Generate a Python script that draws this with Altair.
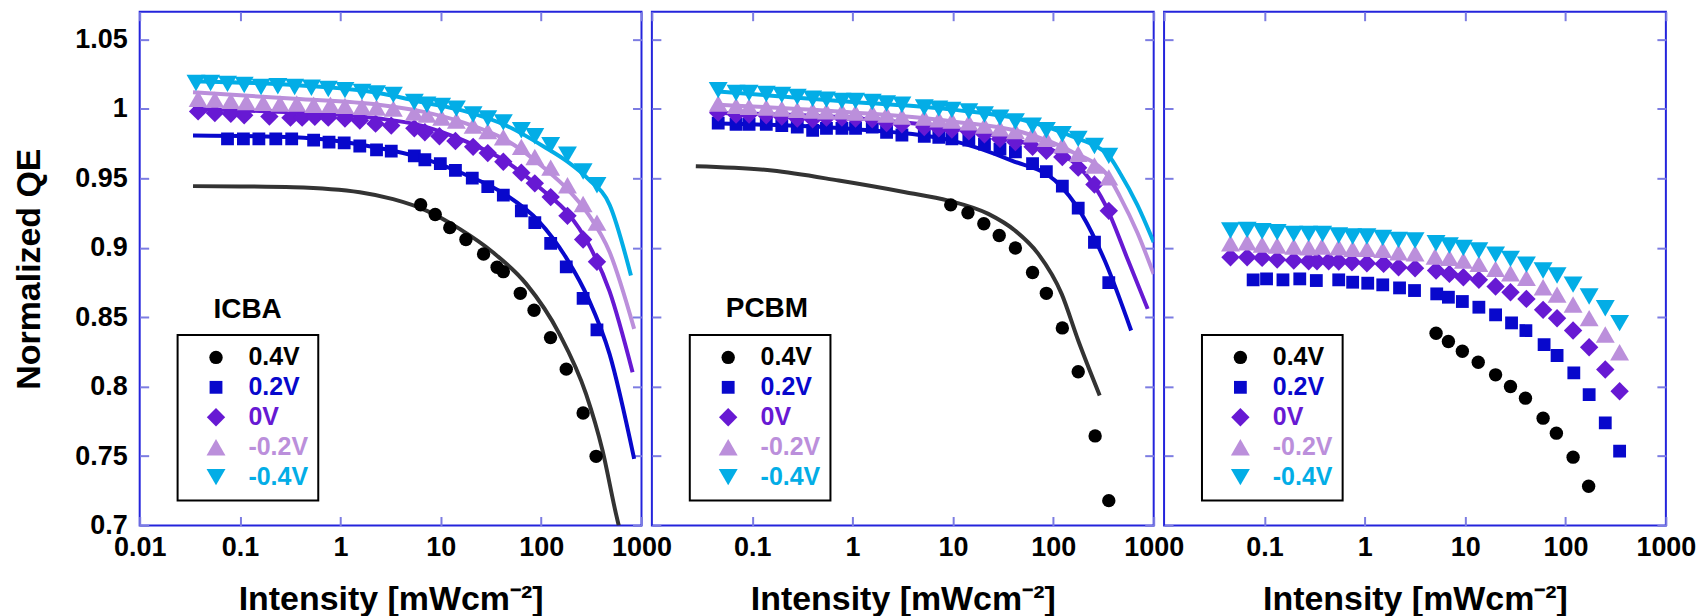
import altair as alt
import pandas as pd

SERIES = ["0.4V", "0.2V", "0V", "-0.2V", "-0.4V"]

# ---------------- ICBA (left panel) measured points ----------------
icba_x_p04 = [6.3, 8.8, 12.3, 17.8, 26.7, 36.4, 42, 62, 85, 124, 178, 262, 353]
icba_y_p04 = [0.931, 0.924, 0.9145, 0.906, 0.8955, 0.886, 0.8828, 0.8672, 0.855, 0.8353, 0.8126, 0.781, 0.7498]
icba_x_p02 = [0.075, 0.108, 0.154, 0.227, 0.327, 0.541, 0.77, 1.09, 1.56, 2.29, 3.21, 5.45, 6.94, 9.9, 14, 20.6, 29.4, 42, 63.5, 86.5, 124.5, 178, 262, 360]
icba_y_p02 = [0.9784, 0.9784, 0.9784, 0.9784, 0.9784, 0.9775, 0.9761, 0.9756, 0.9733, 0.9705, 0.9696, 0.9662, 0.9634, 0.9606, 0.9558, 0.9501, 0.9441, 0.9379, 0.9266, 0.9181, 0.9032, 0.8862, 0.8636, 0.8409]
icba_x_0 = [0.0382, 0.0561, 0.0809, 0.110, 0.196, 0.318, 0.416, 0.556, 0.757, 1.11, 1.56, 2.24, 3.21, 5.45, 6.94, 9.7, 14, 21, 29.4, 42, 63.5, 86.5, 124.5, 183, 262, 360]
icba_y_0 = [0.9982, 0.997, 0.9965, 0.9954, 0.9945, 0.9937, 0.9937, 0.9943, 0.9937, 0.9931, 0.9917, 0.9894, 0.988, 0.986, 0.9832, 0.9803, 0.9769, 0.9727, 0.9682, 0.962, 0.9541, 0.9464, 0.9365, 0.923, 0.906, 0.8899]
icba_x_m02 = [0.0382, 0.0561, 0.0809, 0.1156, 0.17, 0.25, 0.367, 0.541, 0.795, 1.11, 1.64, 2.29, 3.37, 5.45, 7.28, 10.2, 14.3, 21, 29.4, 42, 63.5, 86.5, 124.5, 183, 262, 360]
icba_y_m02 = [1.0073, 1.0067, 1.0058, 1.005, 1.0044, 1.0039, 1.0039, 1.003, 1.003, 1.0022, 1.0016, 1.001, 1.0002, 0.9973, 0.996, 0.9937, 0.9917, 0.988, 0.984, 0.9796, 0.9727, 0.9654, 0.9577, 0.945, 0.9315, 0.9181]
icba_x_m04 = [0.0364, 0.0509, 0.075, 0.110, 0.162, 0.238, 0.35, 0.514, 0.757, 1.11, 1.64, 2.29, 3.37, 5.45, 7.28, 10.2, 14.3, 21, 29.4, 42, 63.5, 86.5, 124.5, 183, 262, 360]
icba_y_m04 = [1.0187, 1.0187, 1.018, 1.0172, 1.0158, 1.0163, 1.0158, 1.0152, 1.0143, 1.0135, 1.0123, 1.0112, 1.0101, 1.005, 1.003, 1.0022, 1.0002, 0.996, 0.9931, 0.9903, 0.9846, 0.9803, 0.9739, 0.9671, 0.9549, 0.945]

# ICBA fitted curves
icba_fx_p04 = [0.034, 0.1, 0.34, 1.56, 3.35, 7.19, 15.4, 33, 71, 152, 280, 409, 557, 593]
icba_fy_p04 = [0.9444, 0.9442, 0.9436, 0.940, 0.935, 0.9268, 0.9136, 0.8968, 0.874, 0.838, 0.7948, 0.754, 0.7084, 0.70]
icba_fx_p02 = [0.034, 0.35, 2.4, 6.4, 16.6, 45, 93.4, 183, 297, 481, 845]
icba_fy_p02 = [0.9809, 0.9796, 0.9719, 0.9648, 0.9535, 0.9379, 0.9196, 0.8913, 0.863, 0.8234, 0.748]
icba_fx_0 = [0.034, 0.35, 2.4, 6.4, 16.6, 45, 112, 183, 297, 481, 815]
icba_fy_0 = [1.0, 0.9973, 0.9931, 0.988, 0.9775, 0.962, 0.9394, 0.9252, 0.9026, 0.8686, 0.8104]
icba_fx_m02 = [0.034, 0.35, 2.4, 6.4, 16.6, 45, 112, 183, 297, 481, 845]
icba_fy_m02 = [1.012, 1.0073, 1.003, 0.9982, 0.9903, 0.9775, 0.9563, 0.9422, 0.9238, 0.8969, 0.8416]
icba_fx_m04 = [0.034, 0.35, 2.4, 6.4, 16.6, 45, 112, 183, 297, 481, 785]
icba_fy_m04 = [1.020, 1.0172, 1.0115, 1.005, 0.9988, 0.988, 0.9719, 0.962, 0.9493, 0.9309, 0.88]

# ---------------- PCBM (middle panel) measured points ----------------
pcbm_x_p04 = [9.5, 14.1, 20.3, 28.9, 41.9, 62.1, 85.2, 123, 177, 261, 357]
pcbm_y_p04 = [0.9309, 0.9252, 0.9173, 0.9088, 0.8998, 0.8822, 0.8672, 0.8423, 0.8107, 0.7645, 0.7179]
pcbm_x = [0.0458, 0.069, 0.093, 0.138, 0.197, 0.281, 0.4, 0.549, 0.783, 1.07, 1.57, 2.18, 3.1, 5.18, 7.23, 9.76, 14.4, 20.6, 29.4, 41.9, 62.1, 85.2, 123, 177, 257, 357]
pcbm_y_p02 = [0.9898, 0.9889, 0.9889, 0.9889, 0.988, 0.9869, 0.9846, 0.986, 0.986, 0.986, 0.9869, 0.9832, 0.9812, 0.9803, 0.9796, 0.9784, 0.9775, 0.9747, 0.9711, 0.9691, 0.9606, 0.9549, 0.9444, 0.9286, 0.904, 0.8749]
pcbm_y_0 = [0.9973, 0.996, 0.996, 0.9954, 0.9945, 0.9931, 0.9925, 0.9937, 0.9937, 0.9931, 0.9925, 0.9898, 0.9889, 0.9869, 0.986, 0.9852, 0.9838, 0.9818, 0.9784, 0.9761, 0.9727, 0.9699, 0.9654, 0.9577, 0.9456, 0.9266]
pcbm_y_m02 = [1.0039, 1.0022, 1.0016, 1.001, 1.0002, 0.9993, 0.9988, 0.9982, 0.9982, 0.9973, 0.9973, 0.996, 0.9945, 0.9937, 0.9925, 0.9917, 0.9903, 0.988, 0.986, 0.984, 0.9818, 0.9784, 0.9739, 0.9677, 0.9592, 0.9507]
pcbm_y_m04 = [1.0135, 1.0115, 1.0115, 1.0107, 1.0101, 1.0087, 1.0073, 1.0067, 1.0058, 1.0058, 1.005, 1.0039, 1.003, 1.001, 1.0002, 0.9993, 0.9982, 0.996, 0.9937, 0.9909, 0.988, 0.9846, 0.9818, 0.9784, 0.9733, 0.9662]

# PCBM fitted curves
pcbm_fx_p04 = [0.0274, 0.158, 0.728, 3.35, 9.0, 22.5, 41.5, 70.8, 121, 177, 290]
pcbm_fy_p04 = [0.9587, 0.9556, 0.9484, 0.94, 0.934, 0.9244, 0.9124, 0.8956, 0.8668, 0.8332, 0.7936]
pcbm_fx_p02 = [0.0458, 1.0, 10, 38.5, 104, 191, 326, 596]
pcbm_fy_p02 = [0.9895, 0.9855, 0.977, 0.9628, 0.9484, 0.9244, 0.8906, 0.8404]
pcbm_fx_0 = [0.0458, 1.0, 10, 50, 152, 326, 558, 871]
pcbm_fy_0 = [0.997, 0.9935, 0.986, 0.976, 0.9628, 0.9316, 0.8906, 0.856]
pcbm_fx_m02 = [0.0458, 1.0, 10, 50, 150, 357, 464, 687, 1000]
pcbm_fy_m02 = [1.003, 0.9975, 0.991, 0.983, 0.9695, 0.951, 0.9365, 0.911, 0.881]
pcbm_fx_m04 = [0.0458, 1.0, 10, 50, 150, 357, 464, 687, 1000]
pcbm_fy_m04 = [1.0125, 1.005, 0.9995, 0.992, 0.9805, 0.9662, 0.9535, 0.9309, 0.904]

# ---------------- third panel measured points ----------------
r_x_p04 = [5.13, 6.81, 9.38, 13.5, 20.1, 28.3, 39.9, 59.8, 81.1, 119, 170]
r_y_p04 = [0.8384, 0.8325, 0.8255, 0.8176, 0.8085, 0.8001, 0.7917, 0.7773, 0.7665, 0.7492, 0.7283]
r_x_p02 = [0.0772, 0.105, 0.153, 0.225, 0.329, 0.55, 0.757, 1.07, 1.51, 2.22, 3.13, 5.21, 6.81, 9.38, 13.7, 20.1, 29, 40.3, 61.2, 82.4, 121, 172, 249, 346]
r_y_p02 = [0.8769, 0.8776, 0.8769, 0.8776, 0.8764, 0.8769, 0.8752, 0.8745, 0.8733, 0.8711, 0.8692, 0.8668, 0.8644, 0.8613, 0.8572, 0.8517, 0.8459, 0.8404, 0.8303, 0.8224, 0.8099, 0.7943, 0.7739, 0.7535]
r_x_0 = [0.0459, 0.0673, 0.0949, 0.134, 0.196, 0.276, 0.334, 0.437, 0.55, 0.745, 1.05, 1.54, 2.17, 3.17, 5.13, 6.97, 9.6, 13.7, 20.1, 28.3, 40.8, 59.8, 82.4, 119, 172, 249, 346]
r_y_0 = [0.8932, 0.8932, 0.8927, 0.8915, 0.8908, 0.8903, 0.8903, 0.8903, 0.8901, 0.8896, 0.8889, 0.8884, 0.886, 0.8853, 0.8836, 0.8812, 0.8788, 0.8769, 0.8721, 0.868, 0.8632, 0.8553, 0.8493, 0.8404, 0.8284, 0.8123, 0.7967]
r_x_m02 = [0.0459, 0.0673, 0.0949, 0.134, 0.196, 0.276, 0.374, 0.55, 0.757, 1.05, 1.51, 2.17, 3.17, 5.01, 6.97, 9.6, 13.7, 20.1, 28.3, 40.8, 59.8, 82.4, 119, 172, 249, 346]
r_y_m02 = [0.9033, 0.904, 0.9023, 0.9016, 0.9009, 0.9004, 0.9009, 0.9004, 0.8992, 0.8992, 0.8985, 0.8968, 0.8961, 0.8937, 0.8927, 0.8908, 0.8884, 0.8848, 0.8817, 0.8783, 0.8716, 0.8663, 0.8591, 0.8493, 0.8375, 0.8248]
r_x_m04 = [0.0459, 0.0673, 0.0949, 0.134, 0.196, 0.276, 0.38, 0.55, 0.757, 1.05, 1.51, 2.17, 3.17, 5.13, 6.97, 9.6, 13.7, 20.1, 28.3, 40.8, 59.8, 82.4, 119, 172, 249, 346]
r_y_m04 = [0.9124, 0.9129, 0.9119, 0.9112, 0.91, 0.91, 0.91, 0.9088, 0.9081, 0.9081, 0.9071, 0.9057, 0.9052, 0.9033, 0.9016, 0.8999, 0.898, 0.8951, 0.892, 0.8879, 0.8836, 0.88, 0.8735, 0.8649, 0.8565, 0.8457]

# panel labels (text, intensity, QE)
ann_icba = ["ICBA", 0.119, 0.8497]
ann_pcbm = ["PCBM", 0.14, 0.85]

# axis ticks
x_ticks = [0.01, 0.1, 1, 10, 100, 1000]
y_ticks = [0.7, 0.75, 0.8, 0.85, 0.9, 0.95, 1.0, 1.05]

# ---------------- styles ----------------
FONT = "Liberation Sans"
PT_COLORS = ["#000000", "#0808cc", "#6719d3", "#bb8fdb", "#03ade6"]
LN_COLORS = ["#333333", "#0808cc", "#6719d3", "#bb8fdb", "#03ade6"]
SHAPES = ["circle", "square", "diamond", "triangle-up", "triangle-down"]
SIZES = [180, 165, 340, 360, 360]
FRAME = "#2424dc"
TICK = "#7c7ce2"
W, H = 503, 515

XS = alt.Scale(type="log", domain=[0.01, 1000], nice=False)
YS = alt.Scale(domain=[0.7, 1.07], nice=False, zero=False)
TICK_IN = alt.ExprRef(expr="-9")

label_color_expr = ""
for s, c in zip(SERIES[:-1], PT_COLORS[:-1]):
    label_color_expr += f"datum.label === '{s}' ? '{c}' : "
label_color_expr += f"'{PT_COLORS[-1]}'"


def points_df(xs_list, ys_list):
    rows = []
    for k, (xs, ys) in enumerate(zip(xs_list, ys_list)):
        for x, y in zip(xs, ys):
            rows.append({"I": x, "QE": y, "bias": SERIES[k]})
    return pd.DataFrame(rows)


def make_panel(pdf, fits, ann, first):
    layers = []
    for k, fit in enumerate(fits):
        if fit is None:
            continue
        ldf = pd.DataFrame({"I": fit[0], "QE": fit[1]})
        layers.append(
            alt.Chart(ldf).mark_line(color=LN_COLORS[k], strokeWidth=4, interpolate="monotone", clip=True)
            .encode(x=alt.X("I:Q", scale=XS, axis=None), y=alt.Y("QE:Q", scale=YS, axis=None))
        )
    xaxis = alt.Axis(
        orient="bottom", values=x_ticks if first else x_ticks[1:], format="~g",
        labelFont=FONT, labelFontSize=27, labelFontWeight="bold", labelColor="black",
        labelPadding=18, labelOverlap=False, labelFlush=False, labelBound=False,
        tickSize=TICK_IN, tickColor=TICK, tickWidth=2, domain=False, grid=False,
        title="Intensity [mWcm⁻²]", titleFont=FONT, titleFontSize=34, titleFontWeight="bold",
        titleColor="black", titlePadding=22,
    )
    if first:
        yaxis = alt.Axis(
            orient="left", values=y_ticks, format="~g",
            labelFont=FONT, labelFontSize=27, labelFontWeight="bold", labelColor="black",
            labelPadding=21.5, labelOverlap=False, labelFlush=False, labelBound=False,
            tickSize=TICK_IN, tickColor=TICK, tickWidth=2, domain=False, grid=False,
            title="Normalized QE", titleFont=FONT, titleFontSize=34, titleFontWeight="bold",
            titleColor="black", titlePadding=28,
        )
    else:
        yaxis = alt.Axis(
            orient="left", values=y_ticks, labels=False,
            tickSize=TICK_IN, tickColor=TICK, tickWidth=2, domain=False, grid=False, title=None,
        )
    legend = alt.Legend(
        orient="none", legendX=38, legendY=324, title=None, padding=10,
        strokeColor="black", fillColor="white",
        labelFont=FONT, labelFontSize=25, labelFontWeight="bold",
        labelColor=alt.ExprRef(expr=label_color_expr),
        labelOffset=20, symbolOffset=16, rowPadding=4, symbolStrokeWidth=0,
    )
    pts = alt.Chart(pdf).mark_point(filled=True, opacity=1, clip=True, strokeWidth=0).encode(
        x=alt.X("I:Q", scale=XS, axis=xaxis),
        y=alt.Y("QE:Q", scale=YS, axis=yaxis),
        color=alt.Color("bias:N", scale=alt.Scale(domain=SERIES, range=PT_COLORS), sort=SERIES, legend=legend),
        shape=alt.Shape("bias:N", scale=alt.Scale(domain=SERIES, range=SHAPES), sort=SERIES, legend=legend),
        size=alt.Size("bias:N", scale=alt.Scale(type="ordinal", domain=SERIES, range=SIZES), sort=SERIES, legend=legend),
    )
    layers.append(pts)
    frame = alt.Chart(pdf).mark_point(opacity=0).encode(
        x=alt.X("I:Q", scale=XS, axis=alt.Axis(orient="top", values=x_ticks, labels=False, tickSize=TICK_IN,
                                                 tickColor=TICK, tickWidth=2, domain=False, grid=False, title=None)),
        y=alt.Y("QE:Q", scale=YS, axis=alt.Axis(orient="right", values=y_ticks, labels=False, tickSize=TICK_IN,
                                                  tickColor=TICK, tickWidth=2, domain=False, grid=False, title=None)),
    )
    layers.append(frame)
    if ann is not None:
        adf = pd.DataFrame({"t": [ann[0]], "I": [ann[1]], "QE": [ann[2]]})
        layers.append(
            alt.Chart(adf).mark_text(font=FONT, fontSize=28, fontWeight="bold", color="black",
                                     align="center", baseline="alphabetic")
            .encode(x=alt.X("I:Q", scale=XS, axis=None), y=alt.Y("QE:Q", scale=YS, axis=None), text="t:N")
        )
    return alt.layer(*layers).properties(width=W, height=H)


left = make_panel(
    points_df([icba_x_p04, icba_x_p02, icba_x_0, icba_x_m02, icba_x_m04],
              [icba_y_p04, icba_y_p02, icba_y_0, icba_y_m02, icba_y_m04]),
    [(icba_fx_p04, icba_fy_p04), (icba_fx_p02, icba_fy_p02), (icba_fx_0, icba_fy_0),
     (icba_fx_m02, icba_fy_m02), (icba_fx_m04, icba_fy_m04)],
    ann_icba, True)

mid = make_panel(
    points_df([pcbm_x_p04, pcbm_x, pcbm_x, pcbm_x, pcbm_x],
              [pcbm_y_p04, pcbm_y_p02, pcbm_y_0, pcbm_y_m02, pcbm_y_m04]),
    [(pcbm_fx_p04, pcbm_fy_p04), (pcbm_fx_p02, pcbm_fy_p02), (pcbm_fx_0, pcbm_fy_0),
     (pcbm_fx_m02, pcbm_fy_m02), (pcbm_fx_m04, pcbm_fy_m04)],
    ann_pcbm, False)

right = make_panel(
    points_df([r_x_p04, r_x_p02, r_x_0, r_x_m02, r_x_m04],
              [r_y_p04, r_y_p02, r_y_0, r_y_m02, r_y_m04]),
    [None, None, None, None, None],
    None, False)

chart = (
    alt.hconcat(left, mid, right, spacing=10.4, bounds="flush")
    .resolve_scale(color="independent", shape="independent", size="independent")
    .resolve_legend(color="independent", shape="independent", size="independent")
    .properties(padding={"left": 3, "top": 1, "right": 0, "bottom": 0}, background="white")
    .configure_view(stroke=FRAME, strokeWidth=2)
    .configure_legend(strokeWidth=2)
)

chart.save("out.html", embed_options={"renderer": "svg", "actions": False})
